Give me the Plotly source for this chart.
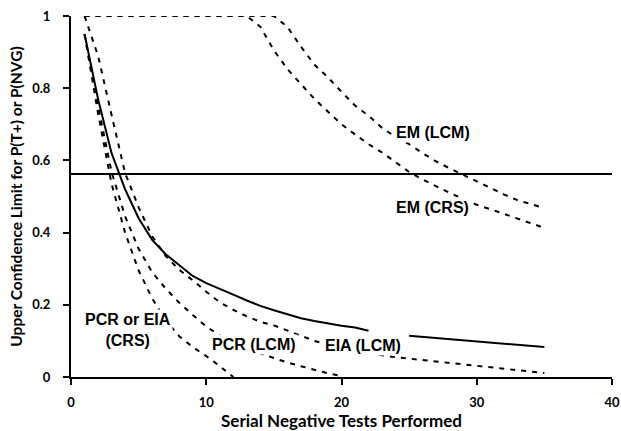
import plotly.graph_objects as go

# Serial negative tests performed
tests_crs = [1, 2, 3, 4, 5, 6, 7, 8, 9, 10, 11, 12]
tests_pcr = [1, 2, 3, 4, 5, 6, 7, 8, 9, 10, 11, 12, 13, 14, 15, 16, 17, 18, 19, 20]
tests_all = [1, 2, 3, 4, 5, 6, 7, 8, 9, 10, 11, 12, 13, 14, 15, 16, 17, 18,
             19, 20, 21, 22, 23, 24, 25, 26, 27, 28, 29, 30, 31, 32, 33, 34, 35]

# PCR or EIA (CRS)
pcr_eia_crs = [0.95, 0.73, 0.535, 0.40, 0.295, 0.218, 0.157, 0.113, 0.083, 0.058, 0.03, 0.0]
# PCR (LCM)
pcr_lcm = [0.95, 0.75, 0.568, 0.445, 0.355, 0.29, 0.245, 0.206, 0.172, 0.14, 0.115,
           0.095, 0.078, 0.065, 0.052, 0.04, 0.03, 0.02, 0.01, 0.003]
# EIA (LCM)
eia_lcm = [1.0, 0.89, 0.726, 0.565, 0.47, 0.39, 0.335, 0.297, 0.268, 0.236, 0.207,
           0.186, 0.168, 0.153, 0.143, 0.128, 0.113, 0.1, 0.09, 0.08, 0.073, 0.066,
           0.06, 0.055, 0.051, 0.047, 0.043, 0.039, 0.034, 0.03, 0.026, 0.022,
           0.018, 0.014, 0.011]
# solid reference curve (gap near label)
solid_curve = [0.95, 0.77, 0.62, 0.52, 0.44, 0.38, 0.34, 0.31, 0.28, 0.26, 0.245,
               0.228, 0.212, 0.197, 0.185, 0.173, 0.163, 0.155, 0.148, 0.142, 0.137,
               0.128, None, None, 0.114, 0.111, 0.107, 0.104, 0.101, 0.098, 0.095,
               0.092, 0.089, 0.086, 0.083]
# EM (CRS)
em_crs = [1.0, 1.0, 1.0, 1.0, 1.0, 1.0, 1.0, 1.0, 1.0, 1.0, 1.0, 1.0, 1.0, 0.97,
          0.905, 0.853, 0.81, 0.77, 0.735, 0.70, 0.672, 0.645, 0.622, 0.595, 0.568,
          0.547, 0.528, 0.51, 0.493, 0.477, 0.465, 0.452, 0.44, 0.426, 0.413]
# EM (LCM)
em_lcm = [1.0, 1.0, 1.0, 1.0, 1.0, 1.0, 1.0, 1.0, 1.0, 1.0, 1.0, 1.0, 1.0, 1.0, 1.0,
          0.97, 0.915, 0.865, 0.83, 0.79, 0.752, 0.724, 0.69, 0.665, 0.645, 0.62,
          0.597, 0.578, 0.56, 0.541, 0.523, 0.506, 0.49, 0.479, 0.468]

threshold_x = [0, 40]
threshold_y = [0.562, 0.562]

x_ticks = [0, 10, 20, 30, 40]
y_ticks = [0, 0.2, 0.4, 0.6, 0.8, 1]
y_tick_labels = ["0", "0.2", "0.4", "0.6", "0.8", "1"]

labels = [
    ("EM (LCM)", 26.8, 0.677),
    ("EM (CRS)", 26.7, 0.47),
    ("PCR or EIA<br>(CRS)", 4.2, 0.13),
    ("PCR (LCM)", 13.5, 0.089),
    ("EIA (LCM)", 21.6, 0.087),
]

dash = "5px,6px"
fig = go.Figure()
fig.add_trace(go.Scatter(x=threshold_x, y=threshold_y, mode="lines",
                         line=dict(color="black", width=2), cliponaxis=False))
for xs, ys in [(tests_all, em_lcm), (tests_all, em_crs), (tests_crs, pcr_eia_crs),
               (tests_pcr, pcr_lcm), (tests_all, eia_lcm)]:
    fig.add_trace(go.Scatter(x=xs, y=ys, mode="lines", cliponaxis=False,
                             line=dict(color="black", width=2, dash=dash)))
fig.add_trace(go.Scatter(x=tests_all, y=solid_curve, mode="lines",
                         line=dict(color="black", width=2), connectgaps=False))

for text, lx, ly in labels:
    fig.add_annotation(x=lx, y=ly, text=text, showarrow=False, bgcolor="white",
                       borderpad=1,
                       font=dict(family="Liberation Sans", size=16, color="black",
                                 weight="bold"))

tick_font = dict(family="Lato", size=13, color="black", weight="bold")
fig.update_layout(
    width=621, height=431,
    margin=dict(l=71, r=9, t=16, b=54),
    plot_bgcolor="white", paper_bgcolor="white",
    showlegend=False,
    xaxis=dict(range=[0, 40], tickvals=x_ticks, showgrid=False, zeroline=False,
               automargin=False,
               showline=True, linecolor="black", linewidth=2, ticks="outside",
               ticklen=6, tickwidth=2, tickcolor="black", tickfont=tick_font,
               ticklabelstandoff=6,
               title=dict(text="Serial Negative Tests Performed",
                          font=dict(family="Lato", size=17, color="black",
                                    weight="bold"),
                          standoff=7)),
    yaxis=dict(range=[0, 1], tickvals=y_ticks, ticktext=y_tick_labels,
               showgrid=False, zeroline=False, automargin=False,
               showline=True, linecolor="black", linewidth=2, ticks="outside",
               ticklen=6, tickwidth=2, tickcolor="black", tickfont=tick_font,
               ticklabelstandoff=10,
               title=dict(text="Upper Confidence Limit for P(T+) or P(NVG)",
                          font=dict(family="Lato", size=15.5, color="black",
                                    weight="bold"),
                          standoff=6)),
)
fig.write_html("out.html",
               config={"displayModeBar": False},
               post_script="document.body.style.margin='0';"
                           "document.body.style.overflow='hidden';")
